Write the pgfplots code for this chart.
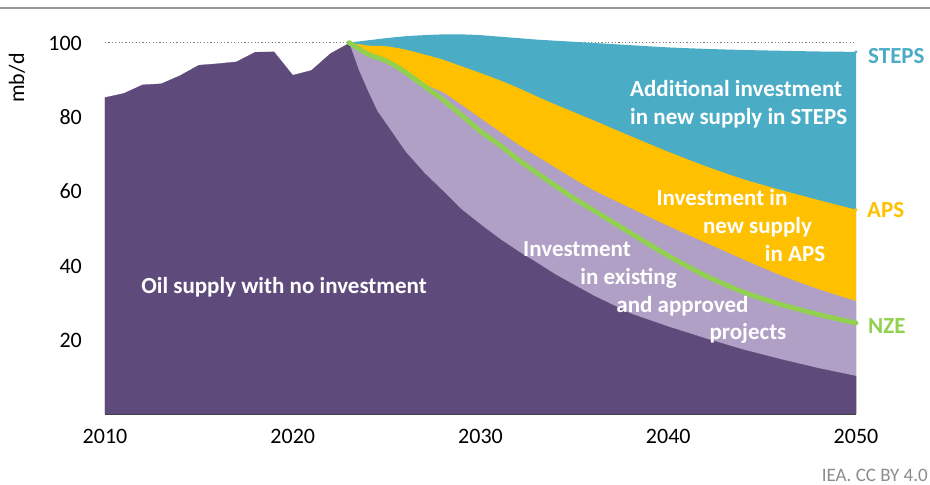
\documentclass[border=0pt]{standalone}
\usepackage{pgfplots}
\pgfplotsset{compat=1.18}
\usepackage{fontspec}
\setmainfont{Carlito}
\definecolor{darkpurple}{RGB}{95,75,123}
\definecolor{lightpurple}{RGB}{176,160,198}
\definecolor{apsyellow}{RGB}{255,192,0}
\definecolor{stepsteal}{RGB}{75,172,198}
\definecolor{nzegreen}{RGB}{146,208,80}
\definecolor{topgray}{RGB}{150,150,150}

\pgfplotstableread{
x y
2010 85.2
2011 86.3
2012 88.6
2013 88.9
2014 91.1
2015 93.9
2016 94.3
2017 94.8
2018 97.4
2019 97.5
2020 91.2
2021 92.5
2022 97.0
2023 99.8
}\history

\pgfplotstableread{
x y
2023 99.8
2023.25 96.3
2023.5 92.7
2024 86.9
2024.5 81.5
2025 77.9
2026 70.6
2027 64.9
2028 60.0
2029 55.0
2030 51.0
2031 47.2
2032 43.8
2033 40.7
2034 37.5
2035 34.7
2036 31.9
2038 27.0
2040 23.5
2042 20.3
2044 17.3
2046 14.7
2048 12.3
2050 10.2
}\noinvest

\pgfplotstableread{
x y
2023 100
2024 97.0
2025 95.0
2026 92.0
2027 88.8
2028 86.6
2029 83.2
2030 79.6
2031 76.1
2032 72.6
2033 69.4
2034 66.3
2035 63.2
2036 60.3
2038 55.4
2040 50.6
2042 46.1
2044 41.6
2046 37.3
2048 33.6
2050 30.4
}\existing

\pgfplotstableread{
x y
2023 100
2024 99.2
2025 99.0
2026 98.1
2027 96.8
2028 95.4
2029 93.6
2030 91.8
2031 89.9
2032 87.8
2033 85.5
2034 83.3
2035 81.2
2036 79.1
2038 74.8
2040 70.6
2042 66.7
2044 63.2
2046 60.3
2048 57.6
2050 55.0
}\aps

\pgfplotstableread{
x y
2023 100
2024 100.6
2025 101.2
2026 101.7
2027 102.0
2028 102.2
2029 102.2
2030 102.0
2031 101.6
2032 101.2
2033 100.8
2034 100.5
2035 100.2
2036 99.9
2038 99.3
2040 98.7
2042 98.3
2044 98.0
2046 97.8
2048 97.6
2050 97.5
}\steps

\pgfplotstableread{
x y
2023 100
2024 96.9
2025 95.0
2026 92.0
2027 88.3
2028 84.6
2029 80.4
2030 76.1
2031 72.5
2032 68.5
2033 64.9
2034 61.4
2035 58.0
2036 54.9
2038 48.7
2040 42.6
2042 37.2
2044 32.8
2046 29.5
2048 26.8
2050 24.5
}\nze

\begin{document}
\begin{tikzpicture}
\path[use as bounding box] (0,0) rectangle (930pt,485pt);
\draw[topgray, line width=2.5pt] (0,477pt) -- (930pt,477pt);
\begin{axis}[
  at={(105pt,71pt)}, anchor=south west,
  scale only axis, width=751pt, height=390pt,
  xmin=2010, xmax=2050, ymin=0, ymax=105,
  axis y line=none,
  axis x line*=bottom,
  x axis line style={draw=black!75, line width=0.8pt, -},
  xtick={2010,2020,2030,2040,2050},
  ytick={20,40,60,80,100},
  xticklabels={2010,2020,2030,2040,2050},
  major tick length=0pt,
  tick style={draw=none},
  /pgf/number format/assume math mode=true,
  ticklabel style={font=\fontsize{22}{26}\selectfont, text=black},
  xticklabel style={anchor=base, inner sep=0pt, yshift=-29.3pt},
  clip=false,
]
\addplot[draw=black!50, line width=1.4pt, dash pattern=on 1.2pt off 2.2pt] coordinates {(2010,100) (2050,100)};
\addplot[draw=none, fill=stepsteal, smooth, tension=0.4] table[x=x,y=y] {\steps} \closedcycle;
\addplot[draw=none, fill=apsyellow, smooth, tension=0.4] table[x=x,y=y] {\aps} \closedcycle;
\addplot[draw=none, fill=lightpurple, smooth, tension=0.4] table[x=x,y=y] {\existing} \closedcycle;
\addplot[draw=darkpurple, line width=0.3pt, fill=darkpurple] table[x=x,y=y] {\history} \closedcycle;
\addplot[draw=darkpurple, line width=0.3pt, fill=darkpurple] table[x=x,y=y] {\noinvest} \closedcycle;
\addplot[draw=nzegreen, line width=4.8pt, line cap=round, smooth, tension=0.4] table[x=x,y=y] {\nze};
\addplot[only marks, mark=*, mark size=1.3pt, stepsteal] coordinates {(2050,97.5)};
\addplot[only marks, mark=*, mark size=1.3pt, apsyellow] coordinates {(2050,55.0)};
\end{axis}
\begin{scope}[every node/.style={font=\fontsize{22}{26}\selectfont, inner sep=0pt}]
\foreach \v in {20,40,60,80,100} {
  \node[anchor=base east] at (82pt, {71pt + \v*3.7143pt - 7.7pt}) {\v};
}
\node[rotate=90, anchor=base] at (24pt, 407pt) {mb/d};
\end{scope}
\begin{scope}[every node/.style={font=\fontsize{23}{27}\selectfont\bfseries, inner sep=0pt}]
\node[anchor=base west, text=stepsteal] at (868pt, 421pt) {STEPS};
\node[anchor=base west, text=apsyellow] at (867pt, 267.7pt) {APS};
\node[anchor=base west, text=nzegreen] at (868pt, 151pt) {NZE};
\node[anchor=base west, text=white] at (630pt, 388.3pt) {Additional investment};
\node[anchor=base west, text=white] at (630pt, 360.7pt) {in new supply in STEPS};
\node[anchor=base, text=white] at (722pt, 279pt) {Investment in};
\node[anchor=base, text=white] at (757.5pt, 251.7pt) {new supply};
\node[anchor=base, text=white] at (795pt, 223.3pt) {in APS};
\node[anchor=base, text=white] at (577pt, 228.3pt) {Investment};
\node[anchor=base, text=white] at (628.5pt, 200pt) {in existing};
\node[anchor=base, text=white] at (682.5pt, 172.3pt) {and approved};
\node[anchor=base, text=white] at (748pt, 145pt) {projects};
\node[anchor=base, text=white] at (284pt, 191.7pt) {Oil supply with no investment};
\end{scope}
\node[anchor=base east, inner sep=0pt, text=black!45, font=\fontsize{19}{22}\selectfont] at (928pt, 3pt) {IEA. CC BY 4.0};
\end{tikzpicture}
\end{document}
